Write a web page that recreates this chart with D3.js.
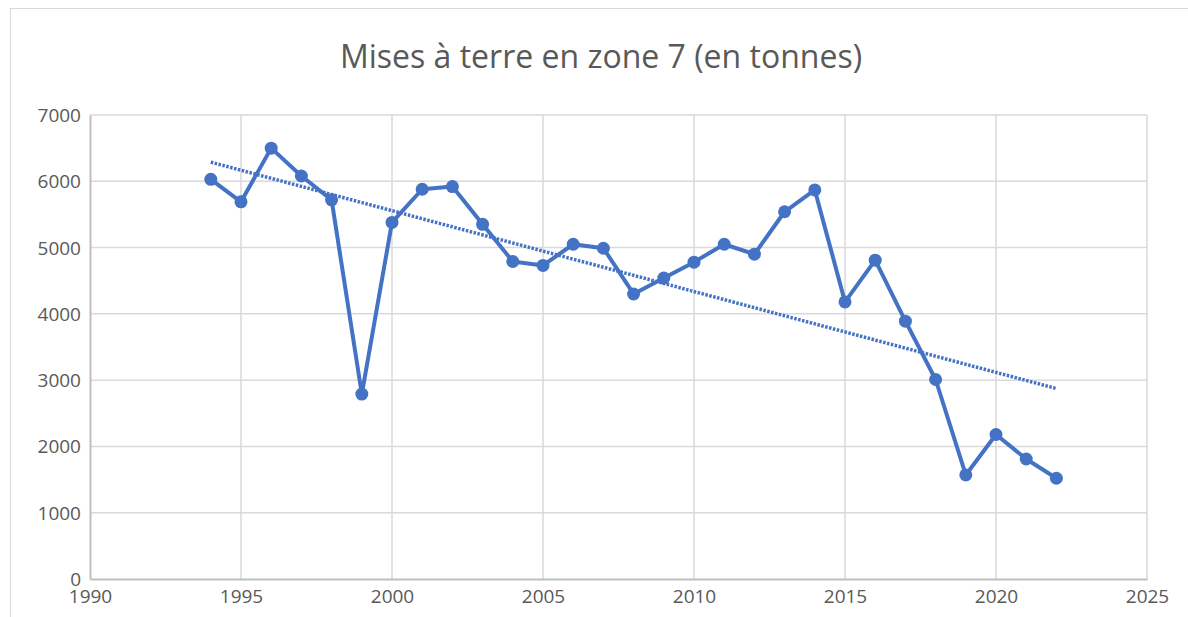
<!DOCTYPE html>
<html>
<head>
<meta charset="utf-8">
<script src="https://cdn.jsdelivr.net/npm/d3@7"></script>
<style>
  body { margin: 0; background: #fff; }
  svg { display: block; font-family: "Open Sans", "Liberation Sans", sans-serif; }
</style>
</head>
<body>
<div id="chart"></div>
<script>
// data -----------------------------------------------------------------
const years = [1994, 1995, 1996, 1997, 1998, 1999, 2000, 2001, 2002, 2003,
               2004, 2005, 2006, 2007, 2008, 2009, 2010, 2011, 2012, 2013,
               2014, 2015, 2016, 2017, 2018, 2019, 2020, 2021, 2022];
const tonnes = [6030, 5690, 6500, 6080, 5720, 2790, 5380, 5880, 5920, 5350,
                4790, 4730, 5050, 4990, 4300, 4540, 4780, 5050, 4900, 5540,
                5870, 4180, 4810, 3890, 3010, 1570, 2180, 1810, 1520];
const xTicks = [1990, 1995, 2000, 2005, 2010, 2015, 2020, 2025];
const yTicks = [0, 1000, 2000, 3000, 4000, 5000, 6000, 7000];
const title = "Mises à terre en zone 7 (en tonnes)";

const width = 1188, height = 617;
const margin = {top: 115, right: 41, bottom: 38, left: 90};
const font = '"Open Sans", "Liberation Sans", sans-serif';

const svg = d3.select('#chart')
    .append('svg')
    .attr('width', width)
    .attr('height', height);

// chart frame
svg.append('rect')
    .attr('x', 10.5).attr('y', 8.5)
    .attr('width', width).attr('height', height)
    .attr('fill', 'none')
    .attr('stroke', '#d9d9d9')
    .attr('stroke-width', 1);

const x = d3.scaleLinear()
    .domain([1990, 2025])
    .range([margin.left, width - margin.right]);

const y = d3.scaleLinear()
    .domain([0, 7000])
    .range([height - margin.bottom, margin.top]);

// gridlines
svg.append('g')
    .selectAll('line.h')
    .data(yTicks.slice(1))
    .join('line')
    .attr('x1', x(1990)).attr('x2', x(2025))
    .attr('y1', d => y(d)).attr('y2', d => y(d))
    .attr('stroke', '#d9d9d9')
    .attr('stroke-width', 1.5);

svg.append('g')
    .selectAll('line.v')
    .data(xTicks.slice(1))
    .join('line')
    .attr('x1', d => x(d)).attr('x2', d => x(d))
    .attr('y1', y(0)).attr('y2', y(7000))
    .attr('stroke', '#d9d9d9')
    .attr('stroke-width', 1.5);

// axes
const xAxis = svg.append('g')
    .attr('transform', `translate(0,${y(0)})`)
    .call(d3.axisBottom(x).tickValues(xTicks).tickFormat(d3.format('d')).tickSize(0).tickPadding(11));

const yAxis = svg.append('g')
    .attr('transform', `translate(${x(1990)},0)`)
    .call(d3.axisLeft(y).tickValues(yTicks).tickFormat(d3.format('d')).tickSize(0).tickPadding(9));

[xAxis, yAxis].forEach(a => {
    a.select('.domain').attr('stroke', '#bfbfbf').attr('stroke-width', 2);
    a.selectAll('text')
        .attr('fill', '#595959')
        .style('font-family', font)
        .style('font-size', '19px');
});
yAxis.selectAll('text').attr('dy', '0.34em');
xAxis.selectAll('text').attr('dy', '0.71em');

// linear trend (least squares on the series)
const mx = d3.mean(years), my = d3.mean(tonnes);
const slope = d3.sum(years, (d, i) => (d - mx) * (tonnes[i] - my)) /
              d3.sum(years, d => (d - mx) * (d - mx));
const icpt = my - slope * mx;
const yr0 = years[0], yr1 = years[years.length - 1];

svg.append('line')
    .attr('x1', x(yr0)).attr('y1', y(icpt + slope * yr0))
    .attr('x2', x(yr1)).attr('y2', y(icpt + slope * yr1))
    .attr('stroke', '#4472c4')
    .attr('stroke-width', 3.5)
    .attr('stroke-dasharray', '2.5,1.5');

// series line
const line = d3.line()
    .x((d, i) => x(years[i]))
    .y(d => y(d));

svg.append('path')
    .datum(tonnes)
    .attr('d', line)
    .attr('fill', 'none')
    .attr('stroke', '#4472c4')
    .attr('stroke-width', 4)
    .attr('stroke-linejoin', 'round');

svg.append('g')
    .selectAll('circle')
    .data(tonnes)
    .join('circle')
    .attr('cx', (d, i) => x(years[i]))
    .attr('cy', d => y(d))
    .attr('r', 6.5)
    .attr('fill', '#4472c4');

// title
svg.append('text')
    .attr('x', 601)
    .attr('y', 68)
    .attr('text-anchor', 'middle')
    .attr('fill', '#595959')
    .style('font-family', font)
    .style('font-size', '32px')
    .text(title);
</script>
</body>
</html>
